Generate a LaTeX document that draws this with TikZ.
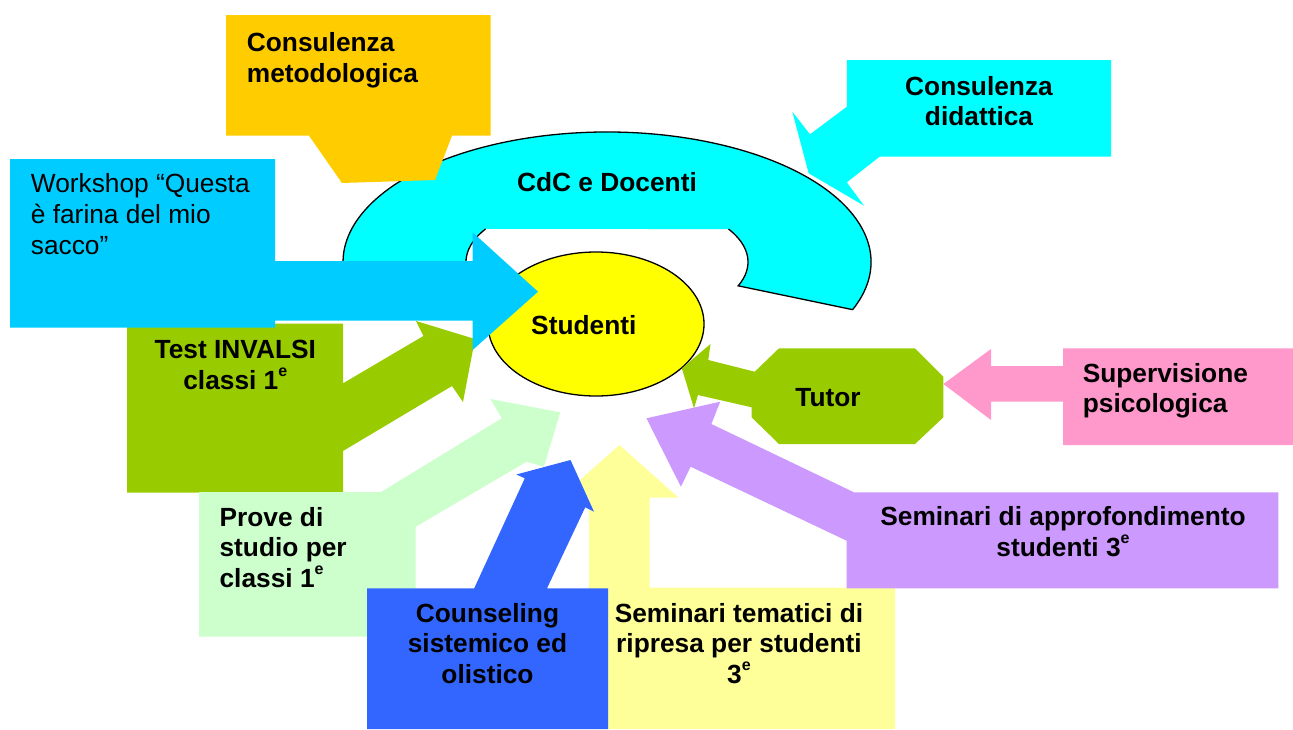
\documentclass[tikz,border=0pt]{standalone}
\usepackage{fontspec}
\setmainfont{Liberation Sans}
\usetikzlibrary{shapes.geometric}
\definecolor{corange}{HTML}{FFCC00}
\definecolor{ccyan}{HTML}{00FFFF}
\definecolor{cwork}{HTML}{00CCFF}
\definecolor{cgreen}{HTML}{99CC00}
\definecolor{clgreen}{HTML}{CCFFCC}
\definecolor{cblue}{HTML}{3366FF}
\definecolor{clyellow}{HTML}{FFFF99}
\definecolor{cpurple}{HTML}{CC99FF}
\definecolor{cpink}{HTML}{FF99CC}
\definecolor{cyellow}{HTML}{FFFF00}
\newcommand\myexp{\raisebox{12.5pt}{\fontsize{16}{16}\selectfont e}}
\tikzset{
  btxt/.style={font=\bfseries\fontsize{26.3}{30.5}\selectfont, inner sep=0pt, text=black},
  ntxt/.style={font=\fontsize{26.3}{30.8}\selectfont, inner sep=0pt, text=black},
  outl/.style={draw=black, line width=1.3pt},
}
\begin{document}
\begin{tikzpicture}[x=1pt,y=-1pt]
\useasboundingbox (0,0) rectangle (1293,729);
% CdC e Docenti block arc
\fill[ccyan] (852.63,309.65) arc[start angle=21.5,end angle=-200,x radius=264,y radius=130]
  -- (474.5,284.2) arc[start angle=-200,end angle=-149.5,x radius=141,y radius=65]
  -- (728.5,229) arc[start angle=-30.5,end angle=21.5,x radius=141,y radius=65] -- cycle;
\draw[outl] (852.63,309.65) arc[start angle=21.5,end angle=-200,x radius=264,y radius=130];
\draw[outl] (474.5,284.2) arc[start angle=-200,end angle=-149.5,x radius=141,y radius=65];
\draw[outl] (728.5,229) arc[start angle=-30.5,end angle=21.5,x radius=141,y radius=65] -- (852.63,309.65);
% Studenti ellipse
\node[outl, fill=cyellow, ellipse, minimum width=216pt, minimum height=144pt, inner sep=0pt] (studell) at (596,324) {};
% Consulenza metodologica
\fill[corange] (226,15) -- (490.5,15) -- (490.5,135.7) -- (452,135.7) -- (435,180) -- (342,183) -- (309,135.7) -- (226,135.7) -- cycle;
% Test INVALSI
\fill[cgreen] (127,323.5) -- (343,323.5) -- (343,383.3) -- (423.4,336) -- (416,321) -- (475,339) -- (463,402) -- (452,386) -- (343,451) -- (343,492.7) -- (127,492.7) -- cycle;
% Prove di studio
\fill[clgreen] (199,492) -- (381,492) -- (501.8,418.3) -- (490.3,399) -- (560.3,412.3) -- (543.9,466.7) -- (526.7,461.7) -- (415.7,526.7) -- (415.7,636.7) -- (199,636.7) -- cycle;
% Seminari tematici
\fill[clyellow] (589,587.7) -- (589,497.7) -- (560,497.7) -- (619.4,445) -- (678.7,497.7) -- (649.5,497.7) -- (649.5,587.7) -- (895,587.7) -- (895,729) -- (589,729) -- cycle;
% Counseling
\fill[cblue] (367,588.3) -- (474.2,588.3) -- (524.8,478.3) -- (516.3,474.5) -- (570.5,460) -- (594,511.7) -- (585.2,507.3) -- (547,588.3) -- (608,588.3) -- (608,729) -- (367,729) -- cycle;
% Seminari di approfondimento
\fill[cpurple] (846.6,492.3) -- (1278.3,492.3) -- (1278.3,588.3) -- (846.6,588.3) -- (846.6,540.7) -- (690.6,466.7) -- (680.9,486.7) -- (646.4,418.3) -- (720.2,401.7) -- (711.4,424) -- (854,492.3) -- cycle;
% Tutor
\fill[cgreen] (779,348.3) -- (915,348.3) -- (943.4,376.7) -- (943.4,417.3) -- (915,444) -- (779,444) -- (751.6,417.3) -- (751.6,407.3) -- (698,395) -- (694,408.3) -- (681.8,368.3) -- (710.5,344) -- (708.3,360) -- (754.7,371.7) -- cycle;
% Supervisione psicologica
\fill[cpink] (1063,348.3) -- (1293,348.3) -- (1293,445) -- (1063,445) -- (1063,401.7) -- (991,401.7) -- (991,420) -- (943.4,384) -- (991,349) -- (991,366) -- (1063,366) -- cycle;
% Consulenza didattica
\fill[ccyan] (846.8,60) -- (1111,60) -- (1111,156.7) -- (879.6,156.7) -- (846.8,182.3) -- (864,205.7) -- (808.7,173.3) -- (792.3,111.7) -- (810,134.3) -- (846.8,106.7) -- cycle;
% Workshop
\fill[cwork] (10,159) -- (275,159) -- (275,261) -- (472.6,261) -- (472.6,232.3) -- (538,291.7) -- (472.6,350) -- (472.6,320.7) -- (275,320.7) -- (275,327.7) -- (10,327.7) -- cycle;
% texts (base anchor = baseline of the last line)
\node[btxt, anchor=base west, align=left] (metod) at (246.7,82.2) {Consulenza\\metodologica};
\node[btxt, anchor=base, align=center] (didat) at (979,125.7) {Consulenza\\didattica};
\node[btxt, anchor=base] (cdc) at (607,191.7) {CdC e Docenti};
\node[ntxt, anchor=base west, align=left] (work) at (30.7,254.3) {Workshop “Questa\\è farina del mio\\sacco”};
\node[btxt, anchor=base, align=center] (test) at (235.3,389.3) {Test INVALSI\\classi 1\myexp};
\node[btxt, anchor=base west, align=left] (prove) at (219.4,587) {Prove di\\studio per\\classi 1\myexp};
\node[btxt, anchor=base, align=center] (couns) at (487.5,683.3) {Counseling\\sistemico ed\\olistico};
\node[btxt, anchor=base, align=center] (semtem) at (739,683.3) {Seminari tematici di\\ripresa per studenti\\3\myexp};
\node[btxt, anchor=base, align=center] (semapp) at (1063,556.2) {Seminari di approfondimento\\studenti 3\myexp};
\node[btxt, anchor=base] (tutor) at (828,406) {Tutor};
\node[btxt, anchor=base west, align=left] (superv) at (1082.6,412.7) {Supervisione\\psicologica};
\node[btxt, anchor=base] (stud) at (583.8,334.3) {Studenti};
\end{tikzpicture}
\end{document}
